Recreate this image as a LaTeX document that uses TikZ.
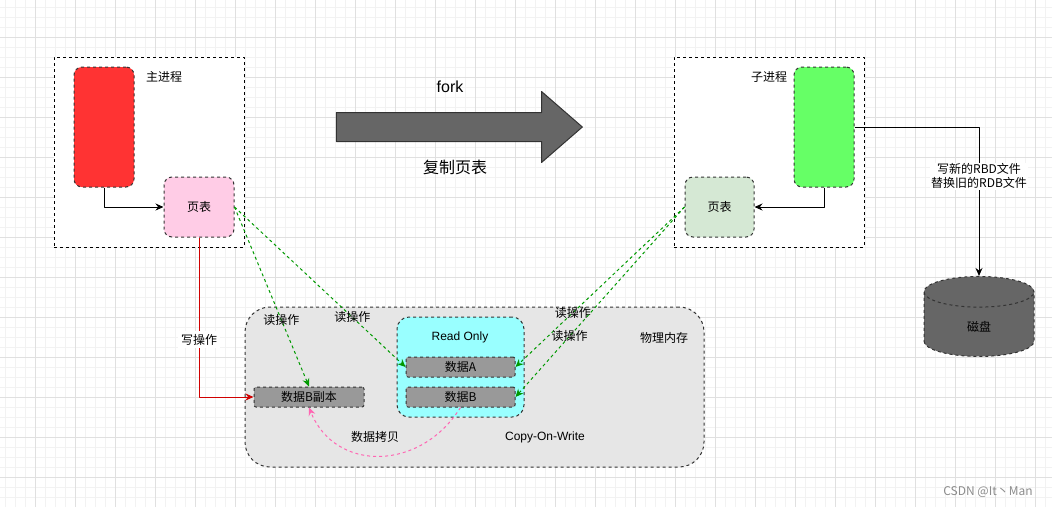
\documentclass[tikz,border=0pt]{standalone}
\usepackage{fontspec}
\setmainfont{Noto Sans CJK SC}
\newfontfamily\lat{Liberation Sans}
\usetikzlibrary{shapes.geometric,shapes.arrows,arrows.meta}
\definecolor{mainred}{HTML}{FF3333}
\definecolor{childgreen}{HTML}{66FF66}
\definecolor{pagepink}{HTML}{FFCCE6}
\definecolor{pagegreen}{HTML}{D5E8D4}
\definecolor{memgray}{HTML}{E6E6E6}
\definecolor{rocyan}{HTML}{99FFFF}
\definecolor{datagray}{HTML}{999999}
\definecolor{darkfill}{HTML}{666666}
\definecolor{readgreen}{HTML}{009900}
\definecolor{writered}{HTML}{D00000}
\definecolor{copypink}{HTML}{FF66B3}
\begin{document}
\begin{tikzpicture}[x=1pt,y=-1pt,>={Stealth[length=8pt,width=7pt]},
  font=\fontsize{12}{14}\selectfont, line join=round, line width=1pt,
  frame/.style={draw, dash pattern=on 3pt off 3pt, fill=white},
  box/.style={draw=black!80, dash pattern=on 3pt off 3pt, rounded corners=8pt},
  datarect/.style={box, rounded corners=2pt, fill=datagray, minimum width=110, minimum height=20, inner sep=0},
  rd/.style={draw=readgreen, dash pattern=on 3pt off 3pt},
  wr/.style={draw=writered},
  cp/.style={draw=copypink, dash pattern=on 3pt off 3pt},
  lbl/.style={text=black}]
\useasboundingbox (0,0) rectangle (1052,507);
\fill[white] (0,0) rectangle (1052,507);
\foreach \i in {5,15,...,1045} \draw[black!5, line width=0.6pt] (\i,0) -- (\i,507);
\foreach \j in {7,17,...,497} \draw[black!5, line width=0.6pt] (0,\j) -- (1052,\j);
\foreach \i in {35,75,...,1035} \draw[black!12, line width=0.6pt] (\i,0) -- (\i,507);
\foreach \j in {37,77,...,477} \draw[black!12, line width=0.6pt] (0,\j) -- (1052,\j);

\node[frame, minimum width=190, minimum height=190] (mainp) at (149,152) {};
\node[box, fill=mainred, minimum width=60, minimum height=120] (redp) at (104,127) {};
\node (mainlbl) at (164,77) {主进程};
\node[box, fill=pagepink, minimum width=70, minimum height=60] (pageA) at (199,207) {页表};
\draw[->] (redp.south) |- (pageA.west);

\node[frame, minimum width=190, minimum height=190] (childp) at (769,152) {};
\node[box, fill=childgreen, minimum width=60, minimum height=120] (greenp) at (824,127) {};
\node (childlbl) at (769,77) {子进程};
\node[box, fill=pagegreen, minimum width=69, minimum height=60] (pageB) at (719.5,207) {页表};
\draw[->] (greenp.south) |- (pageB.east);

\node[single arrow, draw=black!80, fill=darkfill, minimum height=246, inner xsep=0, inner ysep=14,
  single arrow head extend=21, single arrow tip angle=82] (forkarr) at (451,127) {};
\node[font=\fontsize{16}{18}\selectfont\lat] (forklbl) at (450,87) {fork};
\node[font=\fontsize{16}{18}\selectfont] (copylbl) at (455,167) {复制页表};

\node[box, rounded corners=25pt, fill=memgray, minimum width=459, minimum height=160] (mem) at (474.5,387) {};
\node[box, rounded corners=12pt, fill=rocyan, minimum width=127, minimum height=100] (ro) at (460.5,367) {};
\node[font=\fontsize{12}{14}\selectfont\lat] (rolbl) at (460,337) {Read Only};
\node[datarect, minimum width=109] (dataA) at (460.5,367) {数据A};
\node[datarect, minimum width=109] (dataB) at (460.5,397) {数据B};
\node[datarect] (copyB) at (309,397) {数据B副本};
\node (memlbl) at (664,338) {物理内存};
\node[font=\fontsize{12}{14}\selectfont\lat] (cowlbl) at (545,437) {Copy-On-Write};
\node (cplbl) at (375,437) {数据拷贝};

\draw[rd,->] (pageA.east) -- node[lbl, pos=.63] {读操作} (copyB.north);
\draw[rd,->] (pageA.east) -- node[lbl, pos=.69] {读操作} (dataA.west);
\draw[rd,->] (pageB.west) -- node[lbl, pos=.66] {读操作} (dataA.east);
\draw[rd,->] (pageB.west) -- node[lbl, pos=.68] {读操作} (dataB.east);
\draw[wr,->] (pageA.south) |- node[lbl, pos=.32, fill=white] {写操作} (copyB.west);
\draw[cp,->] (dataB.south) .. controls (420,472) and (335,472) .. (copyB.south);

\node[cylinder, shape border rotate=90, aspect=1, draw=black!80, dash pattern=on 3pt off 3pt,
  fill=darkfill, minimum width=110, minimum height=80] (disk) at (979,327) {磁盘};
\draw[->] (greenp.east) -| node[pos=.665, fill=white, align=center, inner sep=1pt] {写新的RBD文件\\替换旧的RDB文件} (disk.north);

\node[text=black!45] (mark) at (988,492) {CSDN @It丶Man};
\end{tikzpicture}
\end{document}
